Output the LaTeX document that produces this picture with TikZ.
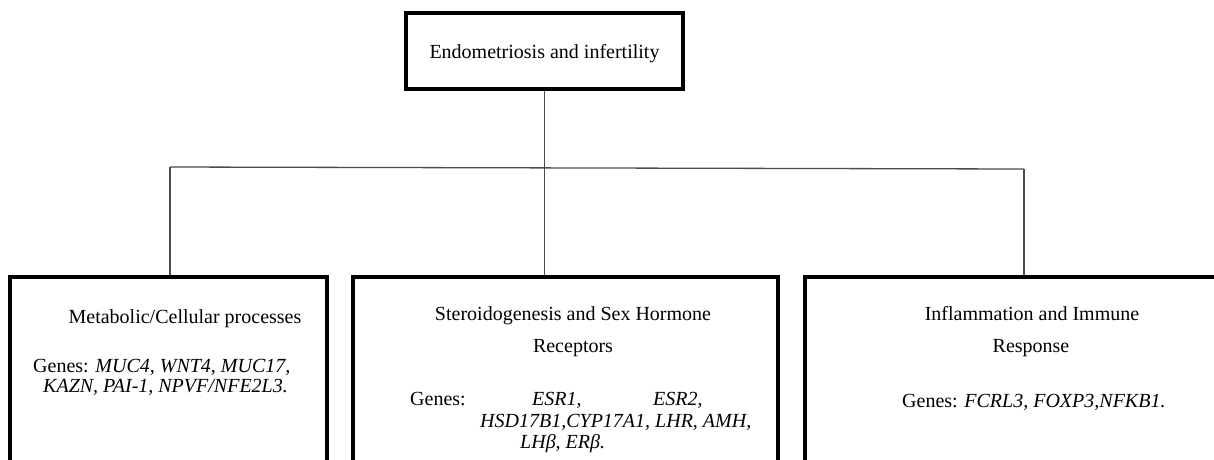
\documentclass[tikz,border=0pt]{standalone}
\usepackage{fontspec}
\setmainfont{Liberation Serif}
\begin{document}
\begin{tikzpicture}[x=1pt,y=-1pt,
  box/.style={draw=black,line width=3.6pt,fill=none,inner sep=0pt},
  conn/.style={draw=black!70,line width=1.3pt},
  txt/.style={inner sep=0pt,font=\fontsize{20}{21}\selectfont},
]
\useasboundingbox (0,0) rectangle (1214,459);
\clip (0,0) rectangle (1214,459);
% top box
\node[box,minimum width=277pt,minimum height=76pt,text depth=0pt,
  font=\fontsize{20}{21}\selectfont] (top) at (544.5,51) {Endometriosis and infertility};
% bottom boxes (their lower edges lie below the picture)
\node[box,minimum width=317pt,minimum height=220pt] (left) at (168.5,387) {};
\node[box,minimum width=425pt,minimum height=220pt] (mid) at (565.5,387) {};
\node[box,minimum width=440pt,minimum height=220pt] (right) at (1025,387) {};
% connectors
\coordinate (hl) at (170,167);
\coordinate (hr) at (1024,169);
\draw[conn] (top.south) -- (top.south |- mid.north);
\draw[conn] (hl) -- (hr);
\draw[conn] (hl) -- (hl |- left.north);
\draw[conn] (hr) -- (hr |- right.north);
% left box text
\node[txt,anchor=base] (l1) at (185,323) {Metabolic/Cellular processes};
\node[txt,anchor=base west] (l2) at (33,372) {Genes: \textit{MUC4, WNT4, MUC17,}};
\node[txt,anchor=base west] (l3) at (43,392) {\textit{KAZN, PAI-1, NPVF/NFE2L3.}};
% middle box text
\node[txt,anchor=base] (m1) at (573,320) {Steroidogenesis and Sex Hormone};
\node[txt,anchor=base] (m2) at (573,352) {Receptors};
\node[txt,anchor=base west] (m3) at (410,405) {Genes:};
\node[txt,anchor=base west] (m4) at (532,405) {\textit{ESR1,}};
\node[txt,anchor=base west] (m5) at (653,405) {\textit{ESR2,}};
\node[txt,anchor=base west] (m6) at (480,427) {\textit{HSD17B1,CYP17A1, LHR, AMH,}};
\node[txt,anchor=base west] (m7) at (520,448) {\textit{LHβ, ERβ.}};
% right box text
\node[txt,anchor=base] (r1) at (1032,320) {Inflammation and Immune};
\node[txt,anchor=base] (r2) at (1031,352) {Response};
\node[txt,anchor=base west] (r3) at (902,407) {Genes: \textit{FCRL3, FOXP3,NFKB1.}};
\end{tikzpicture}
\end{document}
